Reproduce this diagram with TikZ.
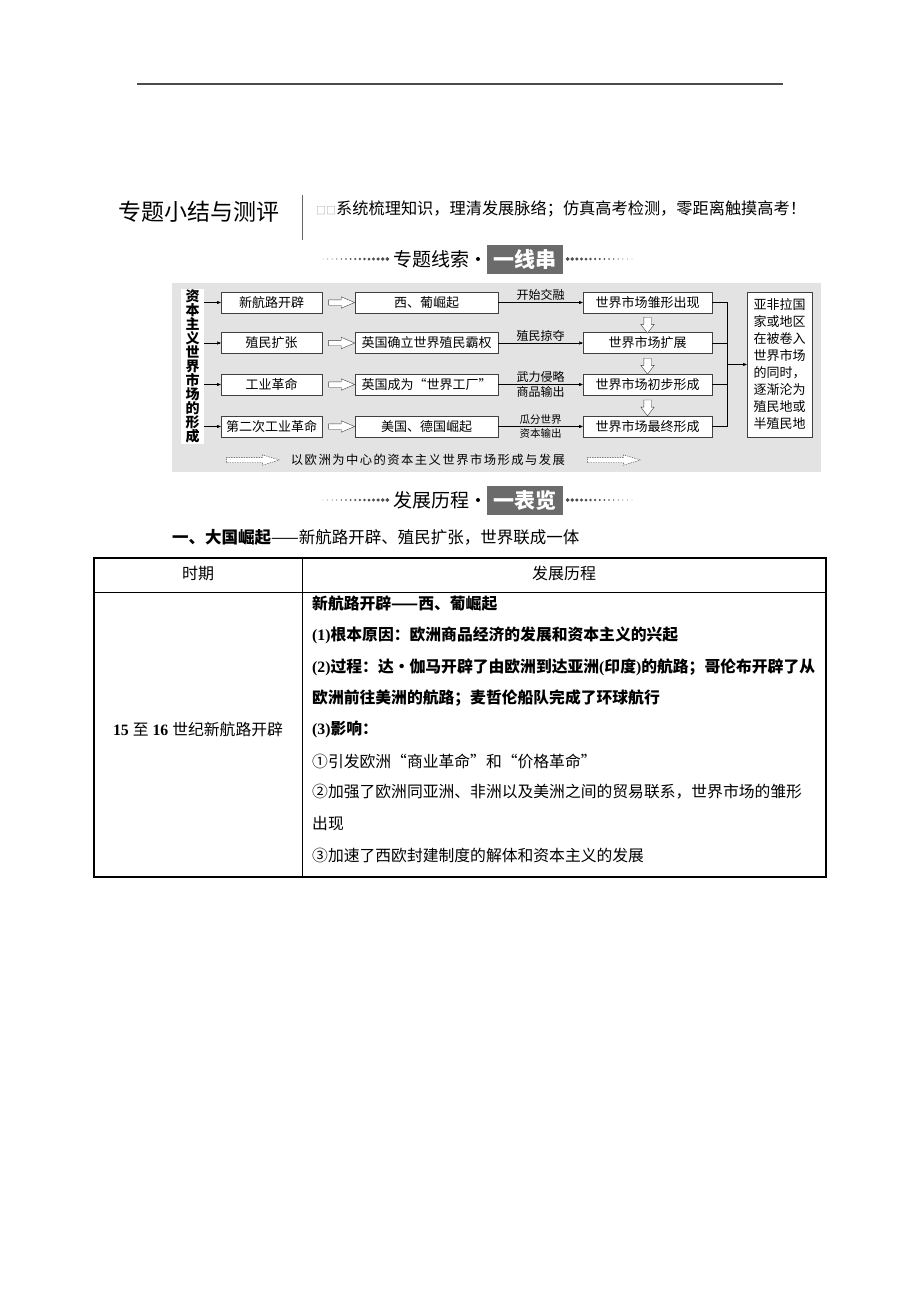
\documentclass[tikz,border=0pt]{standalone}
\usepackage{fontspec}
\setmainfont{Liberation Serif}
\newfontfamily\cjk{Noto Sans CJK SC}
\usepackage{xcolor}
\usepackage{tikz}
\usetikzlibrary{arrows,shapes,positioning,calc}
\definecolor{panel-grey}{rgb}{0.89,0.89,0.89}
\definecolor{tag-grey}{rgb}{0.42,0.42,0.42}
\newcommand{\fsz}[1]{\fontsize{#1}{#1}\selectfont}

\begin{document}
\begin{tikzpicture}
      [x=1pt, y=-1pt, flow/.style = {draw=black!75, fill=white,
        inner sep=0pt, minimum height=21pt, line width=0.8pt,
        font=\cjk\fsz{13}}, post/.style={->, >=stealth', thin},
      fatarrow/.style = {single arrow, draw=black!75, fill=white,
        inner xsep=0pt, inner ysep=2.5pt, minimum height=26pt,
        minimum width=11pt, single arrow head extend=3pt,
        single arrow tip angle=46},
      downarrow/.style = {fatarrow, inner ysep=3.5pt,
        minimum height=16pt, minimum width=13pt,
        single arrow tip angle=74},
      dasharrow/.style = {fatarrow, dash pattern=on 1.5pt off 1pt,
        minimum height=53pt, minimum width=10pt,
        single arrow head extend=2.5pt, single arrow tip angle=34},
      tag/.style = {fill=tag-grey, text=white, inner sep=0pt,
        minimum width=76pt, minimum height=29pt,
        font=\cjk\bfseries\fsz{21}},
      note/.style = {font=\cjk\fsz{12}, inner sep=1.5pt},
      line/.style = {anchor=west, inner sep=0pt, font=\cjk\fsz{15.8}}]

      \fill[white] (0,0) rectangle (920,1302);
      \useasboundingbox (0,0) rectangle (920,1302);

      % page head
      \draw[line width=1.6pt, black!70] (137,84) -- (783,84);
      \node [anchor=west, inner sep=0pt, font=\cjk\fsz{23}] (title)
      at (118,212) {专题小结与测评};
      \draw[black!60, line width=1pt] (302,195) -- (302,240);
      \node [anchor=west, inner sep=0pt, font=\cjk\fsz{16.2}] (motto)
      at (316,209) {{\color{black!40}\fsz{10}□□}系统梳理知识，理清发展脉络；仿真高考检测，零距离触摸高考！};

      % section banners
      \foreach \y/\word/\mark in {259/专题线索/一线串, 500/发展历程/一表览} {
        \foreach \i in {0,...,14} {
          \fill[black!70] ({323+\i*4.6},\y) circle[radius={0.3pt+\i*0.12pt}];
          \fill[black!70] ({632-\i*4.6},\y) circle[radius={0.3pt+\i*0.12pt}];
        }
        \node [anchor=west, inner sep=0pt, font=\cjk\fsz{19}] at (393,\y) {\word};
        \fill (478,\y) circle[radius=2pt];
        \node [tag] at (525,\y) {\mark};
      }

      % clue chart
      \fill[panel-grey] (172,283) rectangle (821,472);
      \node [fill=white, inner sep=0pt, minimum width=23pt,
      minimum height=155pt, align=center, font=\cjk\bfseries\fsz{14}]
      (topic) at (192.5,366.5) {资\\本\\主\\义\\世\\界\\市\\场\\的\\形\\成};

      \node [flow, minimum width=101pt] (route) at (271.5,302.5) {新航路开辟};
      \node [flow, minimum width=101pt] (colony) at (271.5,343) {殖民扩张};
      \node [flow, minimum width=101pt] (industry) at (271.5,384.5) {工业革命};
      \node [flow, minimum width=101pt] (industry2) at (271.5,426.5) {第二次工业革命};

      \node [flow, minimum width=143pt] (iberia) at (426.5,302.5) {西、葡崛起};
      \node [flow, minimum width=143pt] (hegemony) at (426.5,343) {英国确立世界殖民霸权};
      \node [flow, minimum width=143pt] (factory) at (426.5,384.5) {英国成为“世界工厂”};
      \node [flow, minimum width=143pt] (usger) at (426.5,426.5) {美国、德国崛起};

      \node [flow, minimum width=129pt] (market1) at (647.5,302.5) {世界市场雏形出现};
      \node [flow, minimum width=129pt] (market2) at (647.5,343) {世界市场扩展};
      \node [flow, minimum width=129pt] (market3) at (647.5,384.5) {世界市场初步形成};
      \node [flow, minimum width=129pt] (market4) at (647.5,426.5) {世界市场最终形成};

      \node [flow, minimum width=65pt, minimum height=145pt, align=center,
      font=\cjk\fontsize{13}{17}\selectfont] (asia) at (779.5,364.5)
      {亚非拉国\\家或地区\\在被卷入\\世界市场\\的同时，\\逐渐沦为\\殖民地或\\半殖民地};

      \foreach \n in {route, colony, industry, industry2}
        \draw[post] (topic.east |- \n) -- (\n.west);

      \path (route.east) -- (iberia.west) node [midway, sloped, fatarrow] {};
      \path (colony.east) -- (hegemony.west) node [midway, sloped, fatarrow] {};
      \path (industry.east) -- (factory.west) node [midway, sloped, fatarrow] {};
      \path (industry2.east) -- (usger.west) node [midway, sloped, fatarrow] {};

      \draw[post] (iberia) -- (market1) node [midway, above, note] {开始交融};
      \draw[post] (hegemony) -- (market2) node [midway, above, note] {殖民掠夺};
      \draw[post] (factory) -- (market3) node [midway, above, note] {武力侵略}
      node [midway, below, note] {商品输出};
      \draw[post] (usger) -- (market4)
      node [midway, above, note, font=\cjk\fsz{10.5}] {瓜分世界}
      node [midway, below, note, font=\cjk\fsz{10.5}] {资本输出};

      \path (market1.south) -- (market2.north) node [midway, sloped, downarrow] {};
      \path (market2.south) -- (market3.north) node [midway, sloped, downarrow] {};
      \path (market3.south) -- (market4.north) node [midway, sloped, downarrow] {};

      \coordinate (join) at (727,364.5);
      \draw[thin] (market1.east) -- (market1.east -| join)
      -- (market4.east -| join) -- (market4.east);
      \draw[thin] (market2.east) -- (market2.east -| join);
      \draw[thin] (market3.east) -- (market3.east -| join);
      \draw[post] (join) -- (asia);

      \node [dasharrow] (trendL) at (248.5,460) {};
      \node [font=\cjk\fsz{12.3}\addfontfeature{LetterSpace=12}, inner sep=0pt]
      (trend) at (428,460) {以欧洲为中心的资本主义世界市场形成与发展};
      \node [dasharrow] (trendR) at (609.5,460) {};

      % overview table
      \node [anchor=west, inner sep=0pt, font=\cjk\fsz{16.5}] (part1)
      at (172,537) {\textbf{一、大国崛起}——新航路开辟、殖民扩张，世界联成一体};

      \draw[line width=1pt] (94,592) -- (826,592);
      \draw[line width=1pt] (302,558) -- (302,877);
      \draw[line width=2pt] (94,558) rectangle (826,877);

      \node [font=\cjk\fsz{16}] (period) at (198,573) {时期};
      \node [font=\cjk\fsz{16}] (course) at (564,573) {发展历程};
      \node [font=\fsz{15.8}] (era) at (198,729)
      {\textbf{15} {\cjk 至} \textbf{16} {\cjk 世纪新航路开辟}};

      \node [line] (l1) at (312,604) {\textbf{新航路开辟——西、葡崛起}};
      \node [line] (l2) at (312,635.5) {\textbf{{\rmfamily(1)}根本原因：欧洲商品经济的发展和资本主义的兴起}};
      \node [line] (l3) at (312,667) {\textbf{{\rmfamily(2)}过程：达·伽马开辟了由欧洲到达亚洲{\rmfamily(}印度{\rmfamily)}的航路；哥伦布开辟了从}};
      \node [line] (l4) at (312,698) {\textbf{欧洲前往美洲的航路；麦哲伦船队完成了环球航行}};
      \node [line] (l5) at (312,729.5) {\textbf{{\rmfamily(3)}影响：}};
      \node [line] (l6) at (312,761) {①引发欧洲“商业革命”和“价格革命”};
      \node [line] (l7) at (312,792) {②加强了欧洲同亚洲、非洲以及美洲之间的贸易联系，世界市场的雏形};
      \node [line] (l8) at (312,823.5) {出现};
      \node [line] (l9) at (312,855.5) {③加速了西欧封建制度的解体和资本主义的发展};
    \end{tikzpicture}
\end{document}
